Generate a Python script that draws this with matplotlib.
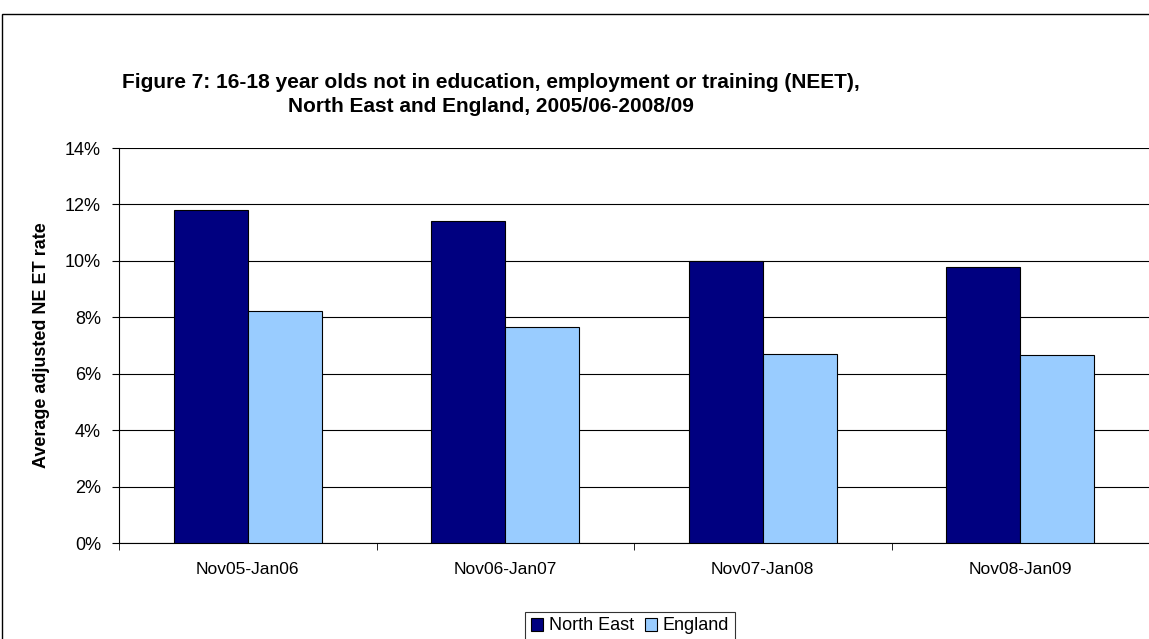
import matplotlib
matplotlib.use("Agg")
import matplotlib.pyplot as plt
from matplotlib.patches import Rectangle
import numpy as np

categories = ["Nov05-Jan06", "Nov06-Jan07", "Nov07-Jan08", "Nov08-Jan09"]
north_east = [11.8, 11.43, 10.0, 9.8]
england = [8.23, 7.67, 6.7, 6.66]
yticks = [0, 2, 4, 6, 8, 10, 12, 14]
ytick_labels = ["0%", "2%", "4%", "6%", "8%", "10%", "12%", "14%"]

plt.rcParams['font.family'] = ['Liberation Sans', 'DejaVu Sans']

W, H = 1149, 639
fig = plt.figure(figsize=(W / 100, H / 100), dpi=100)
ax = fig.add_axes([119 / W, 1 - 543 / H, (1149 - 119) / W, (543 - 148) / H])

x = np.arange(len(categories))
bw = 0.288
ax.bar(x - bw / 2, north_east, bw, color="#000080", edgecolor="black", linewidth=0.8,
       label="North East", zorder=3)
ax.bar(x + bw / 2, england, bw, color="#99CCFF", edgecolor="black", linewidth=0.8,
       label="England", zorder=3)

ax.set_xlim(-0.5, len(categories) - 0.5)
ax.set_ylim(0, 14)
ax.set_yticks(yticks)
ax.set_yticklabels(ytick_labels, fontsize=13)
ax.set_xticks(x)
ax.set_xticklabels(categories, fontsize=12.5)
ax.set_xticks(np.arange(len(categories) + 1) - 0.5, minor=True)
ax.tick_params(axis='x', which='major', length=0, pad=14)
ax.tick_params(axis='x', which='minor', length=5, direction='out', color='black')
ax.tick_params(axis='y', length=5, direction='out', pad=8)
ax.yaxis.grid(True, color="black", linewidth=0.8, zorder=0)
ax.set_axisbelow(True)
for s in ["top", "right"]:
    ax.spines[s].set_visible(False)
for s in ["left", "bottom"]:
    ax.spines[s].set_color("black")
    ax.spines[s].set_linewidth(0.8)

ax.set_ylabel("Average adjusted NE ET rate", fontsize=13, fontweight="bold")
ax.yaxis.set_label_coords((50 - 119) / (1149 - 119), 0.5)

fig.text(491 / W, 1 - 82 / H, "Figure 7: 16-18 year olds not in education, employment or training (NEET),",
         ha="center", va="center", fontsize=15, fontweight="bold")
fig.text(491 / W, 1 - 107 / H, "North East and England, 2005/06-2008/09",
         ha="center", va="center", fontsize=15, fontweight="bold")

leg = fig.legend(loc="center", bbox_to_anchor=(630 / W, 1 - 626 / H), ncol=2, fontsize=13,
                 frameon=True, fancybox=False, edgecolor="black", handlelength=0.7,
                 handleheight=0.7, handletextpad=0.3, columnspacing=0.6, borderpad=0.3)
leg.get_frame().set_linewidth(0.8)

fig.patches.append(Rectangle((2 / W, -0.1), 1.2, 1 - 14 / H + 0.1, transform=fig.transFigure,
                             fill=False, edgecolor="black", linewidth=1.0))

fig.savefig("out.png", dpi=100)
